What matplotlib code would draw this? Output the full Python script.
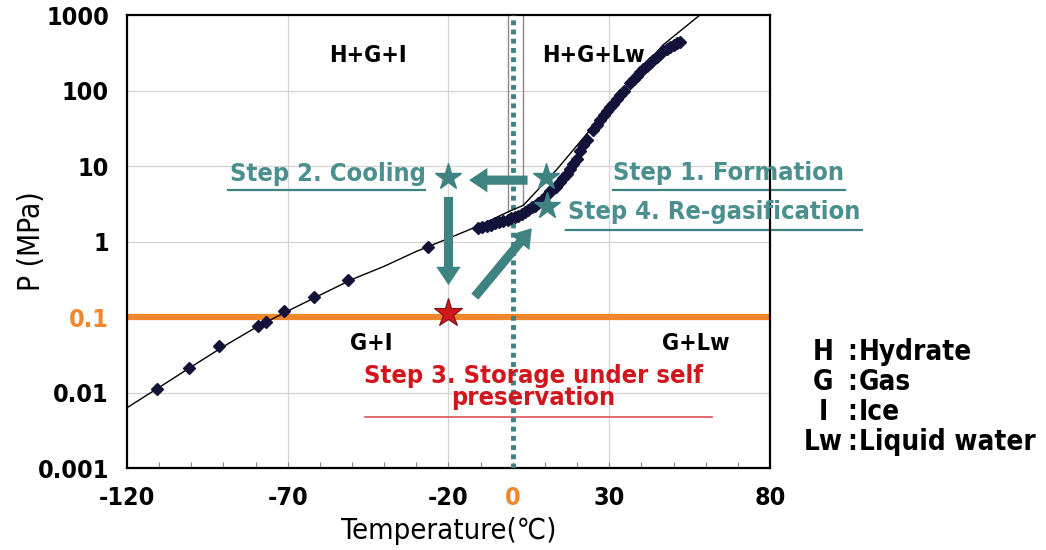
import matplotlib
matplotlib.use("Agg")
import matplotlib.pyplot as plt
from matplotlib.ticker import FixedLocator, NullFormatter

# equilibrium curve (temperature degC, pressure MPa)
curve_t = [-120, -110, -100, -90, -80, -70, -60, -50, -40, -30, -20, -10, -1.4, 3.3, 13.6, 30, 46.7, 58.2]
curve_p = [0.0063, 0.0117, 0.0219, 0.0407, 0.0724, 0.120, 0.195, 0.315, 0.47, 0.74, 1.10, 1.66, 2.48, 3.02, 8.9, 60, 400, 1000]

# measured points
meas_t = [-110.7, -100.7, -91.3, -79.3, -76.7, -71.3, -61.7, -51.3, -26.3,
          -10.7, -9.5, -8.1, -6.8, -5.5, -4.2, -2.9, -1.6, -0.4, 0.7, 1.7, 2.8,
          3.8, 4.8, 5.9, 6.9, 7.9, 9.2, 10.5, 11.6, 12.6, 13.6, 14.7, 15.7,
          16.8, 17.8, 18.8, 20.0, 21.0, 21.9, 23.0, 25.0, 26.1, 27.2, 28.3,
          29.3, 30.3, 31.3, 32.4, 33.4, 34.5, 36.5, 37.6, 38.6, 39.6, 40.6,
          41.7, 42.7, 43.7, 44.8, 45.8, 46.8, 47.9, 48.9, 50.0, 51.0, 52.0]
meas_p = [0.011, 0.021, 0.041, 0.076, 0.085, 0.12, 0.186, 0.31, 0.85,
          1.50, 1.55, 1.60, 1.68, 1.74, 1.80, 1.86, 1.95, 2.03, 2.12, 2.20, 2.35,
          2.48, 2.62, 2.84, 3.0, 3.2, 3.6, 4.1, 4.6, 5.0, 5.3, 6.2, 7.0,
          7.8, 9.0, 10.5, 12.5, 16, 19, 22, 30, 35, 41, 47,
          53, 60, 67, 78, 88, 100, 125, 140, 158, 175, 192,
          212, 230, 255, 280, 305, 330, 355, 380, 405, 425, 445]

x_ticks = [-120, -70, -20, 0, 30, 80]
y_ticks = [0.001, 0.01, 0.1, 1, 10, 100, 1000]
y_labels = ["0.001", "0.01", "0.1", "1", "10", "100", "1000"]

# process steps (T, P)
step1 = (10.3, 7.1)
step2 = (-20, 7.1)
step3 = (-20, 0.112)
step4 = (10.6, 3.0)

TEAL = "#3f8282"
TEAL_TXT = "#4b8f8f"
ORANGE = "#f0872c"
RED = "#d2161e"

plt.rcParams["font.family"] = ["DejaVu Sans"]
plt.rcParams["font.stretch"] = "condensed"

fig = plt.figure(figsize=(10.46, 5.5), dpi=100)
ax = fig.add_axes([0.1214, 0.149, 0.6147, 0.8237])
ax.set_yscale("log")
ax.set_xlim(-120, 80)
ax.set_ylim(0.001, 1000)

# grid
for t in [-70, -20, 30]:
    ax.axvline(t, color="#d4d4d4", lw=0.9, zorder=0)
for p in [0.01, 1, 10, 100]:
    ax.axhline(p, color="#d4d4d4", lw=0.9, zorder=0)

# ice / liquid boundary box
ax.plot([-1.4, -1.4], [2.48, 1000], color="#8a8a8a", lw=1.0, zorder=2)
ax.plot([3.3, 3.3], [3.02, 1000], color="#8a8a8a", lw=1.0, zorder=2)
ax.axvline(0, color=TEAL, lw=3.5, ls=(0, (1.0, 0.9)), zorder=3)

ax.axhline(0.1, color=ORANGE, lw=4.5, zorder=2)

ax.plot(curve_t, curve_p, color="black", lw=1.0, zorder=4)
ax.plot(meas_t, meas_p, ls="none", marker="D", ms=6.5, color="#12123a", zorder=5)

# arrows
arrow_kw = dict(arrowstyle="simple,head_length=0.6,head_width=0.8,tail_width=0.3",
                color=TEAL, mutation_scale=22, shrinkA=0, shrinkB=0, lw=0)
ax.annotate("", xy=(-13.6, 6.5), xytext=(4.6, 6.5), arrowprops=arrow_kw, zorder=6)
ax.annotate("", xy=(-20, 0.265), xytext=(-20, 3.9), arrowprops=arrow_kw, zorder=6)
ax.annotate("", xy=(5.9, 1.50), xytext=(-11.8, 0.186), arrowprops=arrow_kw, zorder=6)

for t, p in [step1, step2, step4]:
    ax.plot(t, p, marker="*", ms=20, color=TEAL, mec=TEAL, zorder=7)
ax.plot(*step3, marker="*", ms=21, color=RED, mec="#7a1010", mew=0.8, zorder=7)

# region labels
for txt, t, p in [("H+G+I", -45, 290), ("H+G+Lw", 25, 290), ("G+I", -44, 0.045), ("G+Lw", 57, 0.045)]:
    ax.text(t, p, txt, ha="center", va="center", fontsize=16.8, fontweight="bold", color="black")

# step labels with underlines
step_txt = dict(fontsize=18.3, fontweight="bold", color=TEAL_TXT, va="center", ha="center", clip_on=False)
ax.text(-57.5, 7.8, "Step 2. Cooling", **step_txt)
ax.plot([-88.6, -27.3], [4.8, 4.8], color=TEAL, lw=1.6)
ax.text(67.2, 8.1, "Step 1. Formation", **step_txt)
ax.plot([31.2, 103.3], [4.8, 4.8], color=TEAL, lw=1.6, clip_on=False)
ax.text(62.6, 2.46, "Step 4. Re-gasification", **step_txt)
ax.plot([16.5, 108.6], [1.42, 1.42], color=TEAL, lw=1.6, clip_on=False)
ax.text(6.5, 0.0118, "Step 3. Storage under self\npreservation", fontsize=18.3, fontweight="bold",
        color=RED, ha="center", va="center", linespacing=0.9)
ax.plot([-46.0, 62.0], [0.0047, 0.0047], color="#e0505a", lw=1.2)

# ticks
ax.set_xticks(x_ticks)
ax.set_xticklabels([str(t) for t in x_ticks])
ax.xaxis.set_minor_locator(FixedLocator(range(-110, 80, 10)))
ax.tick_params(axis="x", which="both", direction="in", length=4, width=0.8, color="#888888",
               pad=13, labelsize=18)
ax.set_yticks(y_ticks)
ax.set_yticklabels(y_labels)
ax.yaxis.set_minor_formatter(NullFormatter())
ax.tick_params(axis="y", which="both", length=0, pad=13, labelsize=18)
for lab in ax.get_xticklabels() + ax.get_yticklabels():
    lab.set_fontweight("bold")
ax.get_xticklabels()[3].set_color(ORANGE)
ax.get_yticklabels()[2].set_color(ORANGE)

for s in ax.spines.values():
    s.set_linewidth(1.6)

ax.set_xlabel("Temperature(\u2103)", fontsize=21, labelpad=5)
fig.text(31 / 1046, 1 - 241 / 550, "P (MPa)", rotation=90, ha="center", va="center", fontsize=21.5)

# key on the right
keys = [("H", "Hydrate"), ("G", "Gas"), ("I", "Ice"), ("Lw", "Liquid water")]
for i, (k, v) in enumerate(keys):
    y = 1 - (352 + i * 30) / 550
    fig.text(823 / 1046, y, k, ha="center", va="center", fontsize=20, fontweight="bold")
    fig.text(852 / 1046, y, ":", ha="center", va="center", fontsize=20, fontweight="bold")
    fig.text(859 / 1046, y, v, ha="left", va="center", fontsize=20, fontweight="bold")

fig.savefig("out.png", dpi=100)
